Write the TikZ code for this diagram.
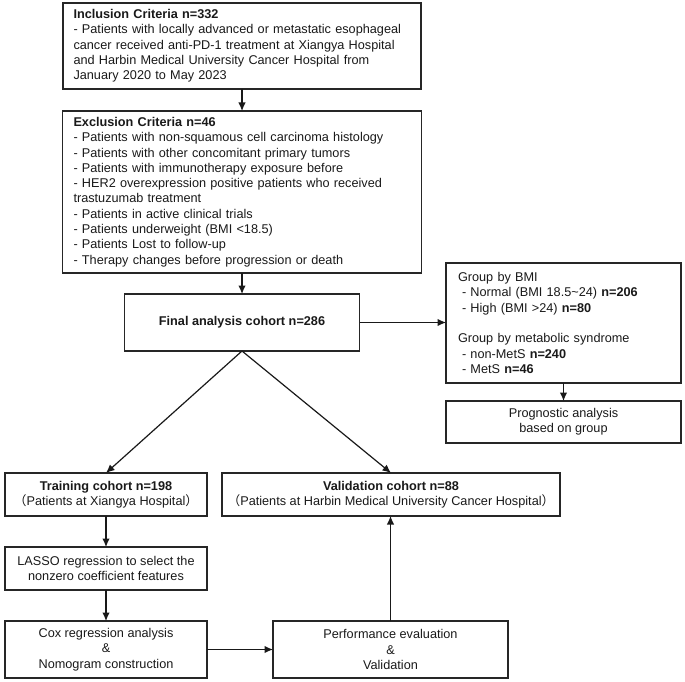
\documentclass[tikz,border=0pt]{standalone}
\usepackage{fontspec}
\setmainfont{Liberation Sans}
\newfontfamily\cjk{Noto Sans CJK SC}
\usetikzlibrary{arrows.meta}
\newlength{\mytw}
\setlength{\mytw}{337pt}
\newcommand{\jl}[1]{\makebox[\mytw][s]{#1}}
\begin{document}
\begin{tikzpicture}[x=1pt,y=-1pt,
  box/.style={draw=black!85, line width=1.2pt, inner sep=0pt, outer sep=0pt,
    font=\fontsize{12.7}{15.3}\selectfont, align=center, text=black!90},
  arr/.style={draw=black!90, line width=1.2pt, -{Latex[length=8.5pt,width=7.5pt]}}]
\useasboundingbox (0,0) rectangle (685,682);
\node[box, minimum width=358pt, minimum height=86pt, text width=337pt, align=left] (inc) at (242,46) {%
\textbf{Inclusion Criteria n=332}\\
\jl{- Patients with locally advanced or metastatic esophageal}\\
\jl{cancer received anti-PD-1 treatment at Xiangya Hospital}\\
\jl{and Harbin Medical University Cancer Hospital from}\\
January 2020 to May 2023};
\node[box, minimum width=359pt, minimum height=162pt, text width=337pt, align=left] (exc) at (242,192) {%
\textbf{Exclusion Criteria n=46}\\
- Patients with non-squamous cell carcinoma histology\\
- Patients with other concomitant primary tumors\\
- Patients with immunotherapy exposure before\\
\jl{- HER2 overexpression positive patients who received}\\
trastuzumab treatment\\
- Patients in active clinical trials\\
- Patients underweight (BMI <18.5)\\
- Patients Lost to follow-up\\
- Therapy changes before progression or death};
\node[box, minimum width=235pt, minimum height=57pt] (final) at (242,322.5) {\textbf{Final analysis cohort n=286}};
\node[box, minimum width=235pt, minimum height=120pt, text width=211pt, align=left] (group) at (563.5,323) {%
Group by BMI\\
\hspace*{4pt}- Normal (BMI 18.5\textasciitilde24) \textbf{n=206}\\
\hspace*{4pt}- High (BMI >24) \textbf{n=80}\\[15.3pt]
Group by metabolic syndrome\\
\hspace*{4pt}- non-MetS \textbf{n=240}\\
\hspace*{4pt}- MetS \textbf{n=46}};
\node[box, minimum width=235pt, minimum height=42pt] (prog) at (563.5,422) {Prognostic analysis\\based on group};
\node[box, minimum width=202pt, minimum height=43pt] (train) at (106,494.5) {\textbf{Training cohort n=198}\\{\cjk （}Patients at Xiangya Hospital{\cjk ）}};
\node[box, minimum width=338pt, minimum height=43pt] (valid) at (391,494.5) {\textbf{Validation cohort n=88}\\{\cjk （}Patients at Harbin Medical University Cancer Hospital{\cjk ）}};
\node[box, minimum width=202pt, minimum height=43pt] (lasso) at (106,568.5) {LASSO regression to select the\\nonzero coefficient features};
\node[box, minimum width=202pt, minimum height=57pt] (cox) at (106,649.5) {Cox regression analysis\\\&\\Nomogram construction};
\node[box, minimum width=235pt, minimum height=57pt] (perf) at (390.5,649.5) {Performance evaluation\\\&\\Validation};
\draw[arr] (inc) -- (exc);
\draw[arr] (exc) -- (final);
\draw[arr] (final.east) -- (group.west |- final.east);
\draw[arr] (group) -- (prog);
\draw[arr] (final.south) -- (train.north);
\draw[arr] (final.south) -- (valid.north);
\draw[arr] (train) -- (lasso);
\draw[arr] (lasso) -- (cox);
\draw[arr] (cox.east) -- (perf.west);
\draw[arr] (perf.north) -- (perf.north |- valid.south);
\end{tikzpicture}
\end{document}
